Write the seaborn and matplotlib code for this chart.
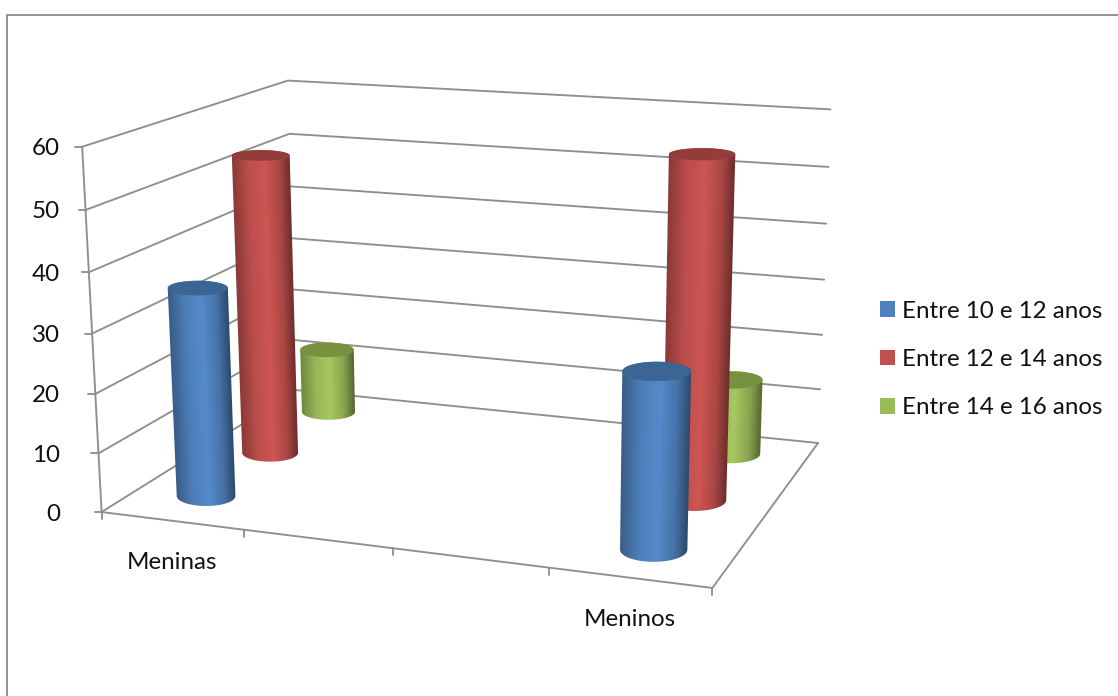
import numpy as np
import pandas as pd
import seaborn as sns
import matplotlib
matplotlib.use("Agg")
import matplotlib.pyplot as plt
from matplotlib.patches import Patch, PathPatch, Polygon
from matplotlib.path import Path

# Chart data
categories = ["Meninas", "", "", "Meninos"]
series_names = ["Entre 10 e 12 anos", "Entre 12 e 14 anos", "Entre 14 e 16 anos"]
entre_10_12 = [35.5, None, None, 28.7]
entre_12_14 = [53, None, None, 57.8]
entre_14_16 = [12, None, None, 13.5]
value_ticks = [0, 10, 20, 30, 40, 50, 60]
base_colors = ["#4F81BD", "#C0504D", "#9BBB59"]
cap_colors = ["#3A6595", "#943C3A", "#78913F"]

sns.set_theme(style="white")
plt.rcParams["font.family"] = ["Lato", "DejaVu Sans"]
palette = sns.color_palette(base_colors)

W, H = 1118, 696
FONT = 17.4
fig = plt.figure(figsize=(W / 100, H / 100), dpi=100)
ax = fig.add_axes([0, 0, 1, 1])

# Camera: projective map from the unit chart box (category, depth, value/max)
# to canvas pixels, calibrated on the visible box corners and category ticks.
box = np.array([[0, 0, 0], [1, 0, 0], [1, 1, 0], [0, 1, 0],
                [0, 0, 1], [1, 1, 1], [0, 1, 1], [0.5, 0, 0]], float)
view = np.array([[100, 510], [714, 588], [817, 442], [299, 392],
                 [84, 148], [831, 110], [286, 79], [391, 549]], float)
rows = []
for (bx, by, bz), (u, v) in zip(box, view):
    rows.append([bx, by, bz, 1, 0, 0, 0, 0, -u * bx, -u * by, -u * bz, -u])
    rows.append([0, 0, 0, 0, bx, by, bz, 1, -v * bx, -v * by, -v * bz, -v])
camera = np.linalg.svd(np.array(rows))[2][-1].reshape(3, 4)


def project(cat, depth, value):
    h = camera @ np.array([cat, depth, value / value_ticks[-1], 1.0])
    return h[:2] / h[2]


# Box edges and gridlines, one polyline per edge
edges = []
def add_edge(name, *points):
    for p in points:
        sx, sy = project(*p)
        edges.append({"edge": name, "sx": sx, "sy": sy})

for v in value_ticks:
    add_edge(f"grid{v}", (0, 0, v), (0, 1, v), (1, 1, v))
add_edge("front", (0, 0, 0), (1, 0, 0), (1, 1, 0))
add_edge("axis", (0, 0, 0), (0, 0, value_ticks[-1]))
GREY = "#8E8E8E"
sns.lineplot(data=pd.DataFrame(edges), x="sx", y="sy", units="edge", estimator=None,
             sort=False, color=GREY, linewidth=1.35, ax=ax, legend=False)

# Tick marks and tick labels
for v in value_ticks:
    x, y = project(0, 0, v)
    ax.plot([x - 7, x], [y, y], color=GREY, lw=1.35)
    ax.text(60, y + 2, str(v), ha="right", va="center", fontsize=FONT, color="#111111")
for i in range(len(categories) + 1):
    x, y = project(i / len(categories), 0, 0)
    ax.plot([x, x], [y, y + 7], color=GREY, lw=1.35)
for i, name in enumerate(categories):
    if name:
        x, y = project((i + 0.5) / len(categories), 0, 0)
        ax.text(x, y + 42, name, ha="center", va="center", fontsize=FONT, color="#111111")

# Chart frame
ax.plot([6.5, 6.5, W], [H, 14.5, 14.5], color="#8A8A8A", lw=1.3)


def shade(color):
    """Horizontal lighting ramp across a cylinder, left to right."""
    stops = np.array([0.0, 0.28, 0.55, 0.8, 1.0])
    gain = np.array([0.72, 0.98, 1.07, 0.88, 0.55])
    return stops, gain, np.array(matplotlib.colors.to_rgb(color))


def cylinder(cat, depth, value, color, cap, zorder):
    radius = 0.053
    top = project(cat, depth, value)
    base = project(cat, depth, 0)
    half_top = (project(cat + radius, depth, value)[0] - project(cat - radius, depth, value)[0]) / 2
    half_base = (project(cat + radius, depth, 0)[0] - project(cat - radius, depth, 0)[0]) / 2
    flat = lambda y: 0.115 + 0.00045 * y
    semi_top = half_top * flat(top[1])
    semi_base = half_base * flat(base[1])

    th = np.linspace(0, np.pi, 60)
    front = np.c_[base[0] - half_base * np.cos(th), base[1] + semi_base * np.sin(th)]
    back = np.c_[top[0] + half_top * np.cos(th), top[1] + semi_top * np.sin(-th)]
    outline = np.vstack([front, back])

    # Pixel-aligned image with a ramp following the lean of the sides
    x0, x1 = outline[:, 0].min() - 1, outline[:, 0].max() + 1
    y0, y1 = outline[:, 1].min() - 1, outline[:, 1].max() + 1
    xs, ys = np.meshgrid(np.linspace(x0, x1, 2 * int(x1 - x0)),
                         np.linspace(y0, y1, 2 * int(y1 - y0)))
    frac = np.clip((ys - top[1]) / (base[1] - top[1]), 0, 1)
    left = top[0] - half_top + frac * ((base[0] - half_base) - (top[0] - half_top))
    right = top[0] + half_top + frac * ((base[0] + half_base) - (top[0] + half_top))
    t = np.clip((xs - left) / (right - left), 0, 1)
    stops, gain, rgb = shade(color)
    g = np.interp(t, stops, gain)
    img = np.clip(g[..., None] * rgb, 0, 1)
    im = ax.imshow(img, extent=(x0, x1, y1, y0), aspect="auto", zorder=zorder,
                   interpolation="bilinear")
    clip = PathPatch(Path(outline), transform=ax.transData, fc="none", ec="none")
    ax.add_patch(clip)
    im.set_clip_path(clip)

    # Cap of the cylinder
    th2 = np.linspace(0, 2 * np.pi, 90)
    ax.add_patch(Polygon(np.c_[top[0] + half_top * np.cos(th2), top[1] + semi_top * np.sin(th2)],
                         closed=True, fc=cap, ec="none", zorder=zorder + 0.1))


# Back row first so the nearer cylinders cover it; each row sits slightly
# off the category centre, as the lateral offsets here describe
rows_by_depth = [(0.85, entre_14_16, 2, -0.007), (0.5, entre_12_14, 1, -0.002), (0.17, entre_10_12, 0, -0.001)]
category_nudge = [-0.003, 0, 0, 0.002]
for order, (depth, values, s, offset) in enumerate(rows_by_depth):
    for i, val in enumerate(values):
        if val is not None:
            cat = (i + 0.5) / len(categories) + offset + category_nudge[i]
            cylinder(cat, depth, val, palette[s], cap_colors[s], 5 + order + i * 0.01)

# Legend
handles = [Patch(fc=palette[i], ec="none", label=series_names[i]) for i in range(3)]
ax.legend(handles=handles, loc="upper left", bbox_to_anchor=(858 / W, 1 - 279 / H),
          bbox_transform=fig.transFigure, frameon=False, fontsize=FONT, labelcolor="#111111",
          handlelength=0.62, handleheight=0.62, handletextpad=0.29, labelspacing=1.13)

ax.set_xlim(0, W)
ax.set_ylim(H, 0)
ax.axis("off")
fig.savefig("out.png", dpi=100)
